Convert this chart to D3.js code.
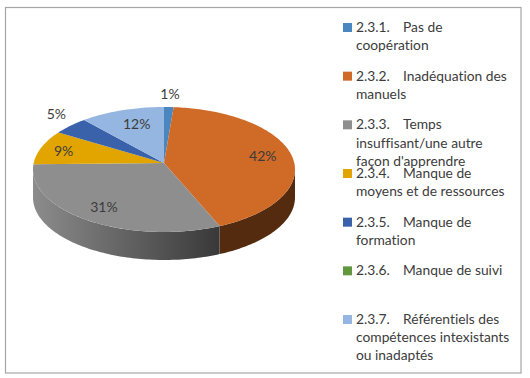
<html>
<head>
<meta charset="UTF-8"/>
<script src="https://d3js.org/d3.v7.min.js"></script>
<title>Pie</title>
<style>
html,body{margin:0;padding:0;background:#fff;}
svg{display:block;}
text{font-family:Lato,"Open Sans",sans-serif;fill:#3c3c3c;font-variant-ligatures:none;}
</style>
</head>
<body>
<svg id="chart" width="530" height="378"></svg>
<script>
'use strict';
var codes = ['2.3.1.','2.3.2.','2.3.3.','2.3.4.','2.3.5.','2.3.6.','2.3.7.'];
var firstLines = ['Pas de','Inadéquation des','Temps','Manque de','Manque de','Manque de suivi','Référentiels des'];
var moreLines = [['coopération'],['manuels'],["insuffisant/une autre","façon d'apprendre"],['moyens et de ressources'],['formation'],[],['compétences intexistants','ou inadaptés']];
var values = [1.3,42.4,31,9,4.8,0,11.5];
var colors = ['#4a86c0','#cf6a27','#8e8e8e','#e2a500','#3a62ab','#63973f','#94b6e0'];
var sideColors = ['#2c5276','#552b10','url(#graySide)','#8a6500','#233c69','#3b5b26','#5a6f89'];

var svg = d3.select('#chart');

// frame
svg.append('rect').attr('x',5.5).attr('y',7.5).attr('width',515.5).attr('height',365.5)
    .attr('fill','#fff').attr('stroke','#a6a6a6').attr('stroke-width',1.2);

var cx = 164, cy = 169.5, rx = 131, ry = 62.5, depth = 28;
var k = 0.104; // perspective, moves the apex above the ellipse centre
var sx = d3.scaleLinear().domain([-1,1]).range([cx-rx,cx+rx]);
var sy = d3.scaleLinear().domain([-1,1]).range([cy+ry,cy-ry]);

function project(a){
    var u = Math.sin(a), v = Math.cos(a), w = 1+k*v;
    return [sx(u*Math.sqrt(1-k*k)/w), sy((v+k)/w)];
}
var apex = [sx(0), sy(k)];

var arcs = d3.pie().value(function(d){return d;}).sort(null)(values);

function rim(a0,a1){
    var n = Math.max(2,Math.ceil((a1-a0)/0.02));
    return d3.range(n+1).map(function(i){return project(a0+(a1-a0)*i/n);});
}
var line = d3.line();

var defs = svg.append('defs');
var grad = defs.append('linearGradient').attr('id','graySide')
    .attr('gradientUnits','userSpaceOnUse')
    .attr('x1',cx-rx).attr('x2',sx(0.42)).attr('y1',0).attr('y2',0);
grad.append('stop').attr('offset',0).attr('stop-color','#8c8c8c');
grad.append('stop').attr('offset',1).attr('stop-color','#393939');

// side wall, only what lies between the two silhouette angles shows
var edge = Math.acos(-k);
svg.append('g').selectAll('path').data(arcs).enter().append('path')
    .attr('d',function(d){
        var a0 = Math.max(d.startAngle,edge), a1 = Math.min(d.endAngle,2*Math.PI-edge);
        if(a1<=a0) return null;
        var top = rim(a0,a1);
        var bottom = top.slice().reverse().map(function(p){return [p[0],p[1]+depth];});
        return line(top.concat(bottom))+'Z';
    })
    .attr('fill',function(d,i){return sideColors[i];});

// top face
svg.append('g').selectAll('path').data(arcs).enter().append('path')
    .attr('d',function(d){
        if(d.endAngle<=d.startAngle) return null;
        return line([apex].concat(rim(d.startAngle,d.endAngle)))+'Z';
    })
    .attr('fill',function(d,i){return colors[i];});

// labels: pull along the slice middle, then a small vertical nudge
var labelPull = [1.25,0.78,0.77,0.82,1.15,0,0.65];
var labelNudge = [0,0,0,0,-7,0,-5];
svg.append('g').selectAll('text').data(arcs.filter(function(d){return d.value>0;})).enter().append('text')
    .attr('x',function(d){var m=project((d.startAngle+d.endAngle)/2);return apex[0]+(m[0]-apex[0])*labelPull[d.index];})
    .attr('y',function(d){var m=project((d.startAngle+d.endAngle)/2);return apex[1]+(m[1]-apex[1])*labelPull[d.index]+labelNudge[d.index];})
    .attr('text-anchor','middle').attr('dominant-baseline','central')
    .attr('font-size',14)
    .text(function(d){return Math.round(d.value)+'%';});

// legend
var ly = d3.scaleLinear().domain([0,6]).range([27,319]);
var lineGap = 18.2;
var legend = svg.append('g').selectAll('g').data(codes).enter().append('g')
    .attr('transform',function(d,i){return 'translate(0,'+ly(i)+')';});
legend.append('rect').attr('x',343).attr('y',-4).attr('width',9).attr('height',9)
    .attr('fill',function(d,i){return colors[i];});
legend.append('text').attr('x',356).attr('y',5).attr('font-size',13.8).text(function(d){return d;});
legend.append('text').attr('x',403).attr('y',5).attr('font-size',13.8).text(function(d,i){return firstLines[i];});
legend.each(function(d,i){
    d3.select(this).selectAll('text.more').data(moreLines[i]).enter().append('text')
        .attr('class','more').attr('x',356)
        .attr('y',function(t,j){return 5+lineGap*(j+1);})
        .attr('font-size',13.8).text(function(t){return t;});
});
</script>
</body>
</html>
